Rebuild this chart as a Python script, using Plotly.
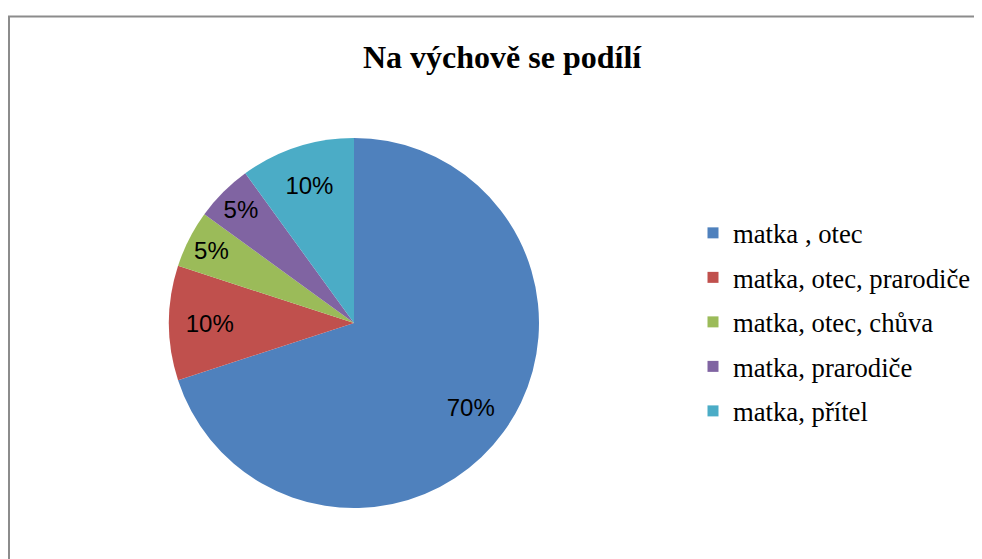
import plotly.graph_objects as go

categories = ["matka , otec", "matka, otec, prarodiče", "matka, otec, chůva",
              "matka, prarodiče", "matka, přítel"]
values = [70, 10, 5, 5, 10]
colors = ["#4F81BD", "#C0504D", "#9BBB59", "#8064A2", "#4BACC6"]
title_text = "Na výchově se podílí"

# the page body has an 8px margin, so figure coords = page coords - 8
PAGE_OFF = 8
W, H = 982 - PAGE_OFF, 559 - PAGE_OFF
cx, cy, r = 354 - PAGE_OFF, 323 - PAGE_OFF, 185
dom = dict(x=[(cx - r) / W, (cx + r) / W], y=[(H - cy - r) / H, (H - cy + r) / H])

fig = go.Figure()
# coloured pie (no text)
fig.add_trace(go.Pie(
    labels=categories, values=values, sort=False, direction="clockwise",
    rotation=0, marker=dict(colors=colors, line=dict(width=0)),
    textinfo="none", showlegend=False, hoverinfo="label+percent", domain=dom,
))
# transparent ring on top that carries the percentage labels at ~0.8 r
fig.add_trace(go.Pie(
    labels=categories, values=values, sort=False, direction="clockwise",
    rotation=0, hole=0.56,
    marker=dict(colors=["rgba(0,0,0,0)"] * len(values), line=dict(width=0)),
    texttemplate="%{percent:.0%}", textposition="inside",
    insidetextorientation="horizontal",
    textfont=dict(family="Liberation Sans", size=24, color="#000000"),
    showlegend=False, hoverinfo="skip", domain=dom,
))
for i, (c, col) in enumerate(zip(categories, colors)):
    fig.add_trace(go.Scatter(
        x=[None], y=[None], mode="markers", name=c, legendgroup=f"g{i}",
        marker=dict(symbol="square", size=11, color=col),
    ))

fig.update_layout(
    width=W, height=H, margin=dict(l=0, r=0, t=0, b=0),
    paper_bgcolor="white", plot_bgcolor="white",
    xaxis=dict(visible=False), yaxis=dict(visible=False),
    legend=dict(x=685 / W, xanchor="left", y=1 - 201 / H, yanchor="top",
                font=dict(family="Liberation Serif", size=26.7, color="#000000"),
                tracegroupgap=6.8, bgcolor="rgba(0,0,0,0)"),
    annotations=[dict(text=f"<b>{title_text}</b>", x=494 / W, y=1 - 49 / H,
                      xref="paper", yref="paper", xanchor="center", yanchor="middle",
                      showarrow=False,
                      font=dict(family="Liberation Serif", size=32, color="#000000"))],
    shapes=[
        dict(type="line", xref="paper", yref="paper", x0=0, x1=1, y0=1 - 8.5 / H, y1=1 - 8.5 / H,
             line=dict(color="#8c8c8c", width=2)),
        dict(type="line", xref="paper", yref="paper", x0=1 / W, x1=1 / W, y0=0, y1=1 - 8.5 / H,
             line=dict(color="#8c8c8c", width=2)),
    ],
)
fig.write_html("out.html")
